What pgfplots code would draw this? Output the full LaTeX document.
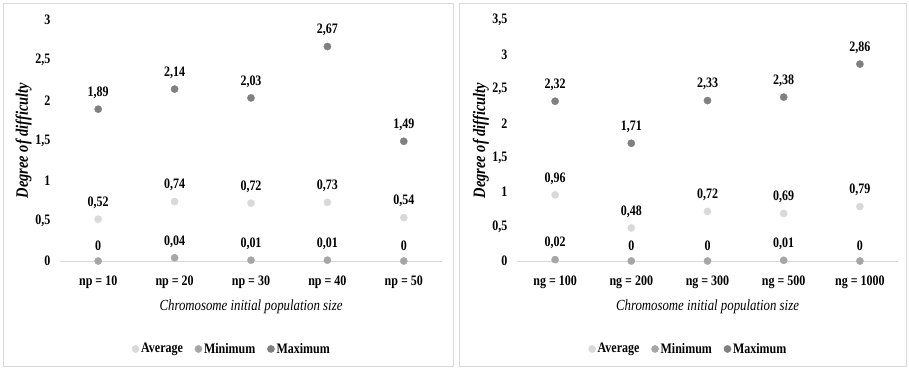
\documentclass[border=0pt]{standalone}
\usepackage{fontspec}
\setmainfont{Liberation Serif}[FakeStretch=0.83]
\newfontfamily\ylfont{Liberation Serif}
\usepackage{pgfplots}
\pgfplotsset{compat=1.18}
\definecolor{avgc}{HTML}{D9D9D9}
\definecolor{minc}{HTML}{A6A6A6}
\definecolor{maxc}{HTML}{808080}
\definecolor{framec}{HTML}{D9D9D9}

\pgfplotsset{
  panel/.style={
    scale only axis, width=382bp, height=241bp,
    xmin=-0.5, xmax=4.5, ymin=0,
    axis line style={draw=none},
    major tick length=0pt,
    xtick={0,1,2,3,4},
    clip=false,
    /pgf/number format/use comma,
    /pgf/number format/fixed,
    /pgf/number format/precision=2,
    /pgf/number format/assume math mode=true,
    ticklabel style={font=\bfseries\fontsize{14.5}{16}\selectfont},
    yticklabel style={xshift=-6bp},
    xticklabel style={yshift=-11bp},
    extra y ticks={0}, extra y tick labels={},
    extra y tick style={grid=major},
    major grid style={draw=framec, line width=0.8bp},
    ylabel={\ylfont\bfseries\itshape Degree of difficulty},
    every axis y label/.style={at={(axis description cs:-0.095,0.5)},rotate=90,xscale=0.83,anchor=center,font=\fontsize{17.5}{19}\selectfont},
    xlabel={\itshape Chromosome initial population size},
    every axis x label/.style={at={(axis description cs:0.5,-0.19)},anchor=center,font=\fontsize{15.5}{17}\selectfont},
    nodes near coords,
    every node near coord/.append style={font=\bfseries\fontsize{14.5}{16}\selectfont, text=black, yshift=7bp},
    legend columns=3,
    legend style={draw=none, fill=none, at={(0.45,-0.365)}, anchor=center,
      font=\bfseries\fontsize{14.5}{16}\selectfont,
      /tikz/every even column/.append style={column sep=10bp}},
    legend cell align=left,
  },
  ser/.style={only marks, mark=*, mark size=3.6bp, color=#1, draw=#1, fill=#1, mark options={draw=#1, fill=#1}},
}

\begin{document}
\begin{tikzpicture}
\useasboundingbox (0,0) rectangle (909bp,370bp);
\draw[framec, line width=0.8bp] (3bp,4bp) rectangle (453bp,367bp);
\draw[framec, line width=0.8bp] (459bp,4bp) rectangle (906bp,367bp);

\begin{axis}[panel, at={(60bp,109bp)}, anchor=south west,
  ymax=3, ytick={0,0.5,1,1.5,2,2.5,3},
  xticklabels={np = 10, np = 20, np = 30, np = 40, np = 50}]
\addplot[ser=avgc] coordinates {(0,0.52) (1,0.74) (2,0.72) (3,0.73) (4,0.54)};
\addlegendentry{Average}
\addplot[ser=minc] coordinates {(0,0) (1,0.04) (2,0.01) (3,0.01) (4,0)};
\addlegendentry{Minimum}
\addplot[ser=maxc] coordinates {(0,1.89) (1,2.14) (2,2.03) (3,2.67) (4,1.49)};
\addlegendentry{Maximum}
\end{axis}

\begin{axis}[panel, at={(517bp,109bp)}, anchor=south west, width=381bp,
  ymax=3.5, ytick={0,0.5,1,1.5,2,2.5,3,3.5},
  xticklabels={ng = 100, ng = 200, ng = 300, ng = 500, ng = 1000}]
\addplot[ser=avgc] coordinates {(0,0.96) (1,0.48) (2,0.72) (3,0.69) (4,0.79)};
\addlegendentry{Average}
\addplot[ser=minc] coordinates {(0,0.02) (1,0) (2,0) (3,0.01) (4,0)};
\addlegendentry{Minimum}
\addplot[ser=maxc] coordinates {(0,2.32) (1,1.71) (2,2.33) (3,2.38) (4,2.86)};
\addlegendentry{Maximum}
\end{axis}
\end{tikzpicture}
\end{document}
